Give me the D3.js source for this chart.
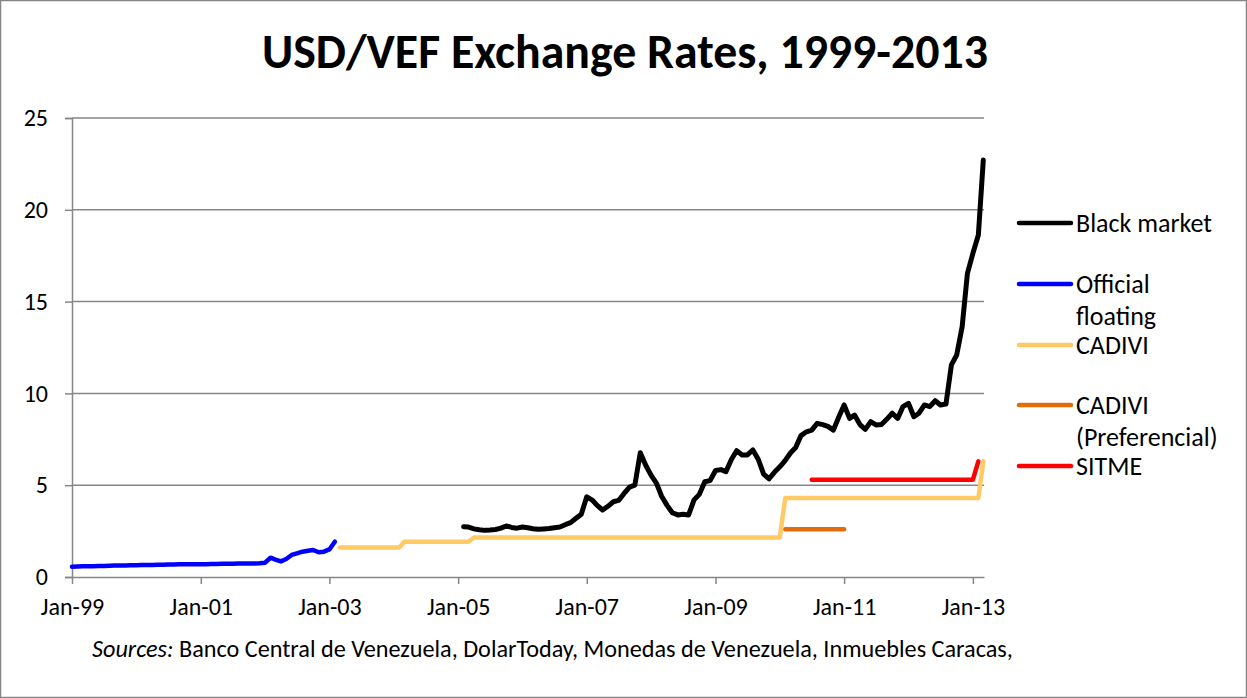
<!DOCTYPE html>
<html>
<head>
<meta charset="utf-8">
<script src="https://cdn.jsdelivr.net/npm/d3@7"></script>
<style>
  body { margin: 0; background: #fff; }
  svg text { font-family: Carlito, Calibri, Lato, sans-serif; fill: #000; }
</style>
</head>
<body>
<div id="chart"></div>
<script>
// monthly series, first value at the start month
const officialStart = '1999-01';
const officialFloating = [
  0.56, 0.57, 0.58, 0.58, 0.59, 0.60, 0.60, 0.61, 0.62, 0.62, 0.63, 0.64,
  0.64, 0.65, 0.66, 0.66, 0.67, 0.67, 0.68, 0.68, 0.69, 0.69, 0.69, 0.70,
  0.70, 0.70, 0.71, 0.71, 0.72, 0.72, 0.72, 0.73, 0.73, 0.74, 0.74, 0.75,
  0.78, 1.05, 0.95, 0.85, 0.98, 1.20, 1.29, 1.38, 1.43, 1.47, 1.35, 1.38,
  1.50, 1.92
];

const blackStart = '2005-02';
const blackMarket = [
  2.74, 2.72, 2.62, 2.57, 2.54, 2.56, 2.59, 2.66, 2.78, 2.70, 2.66,
  2.72, 2.68, 2.63, 2.60, 2.62, 2.64, 2.68, 2.72, 2.85, 2.96, 3.20, 3.42,
  4.37, 4.19, 3.90, 3.65, 3.85, 4.10, 4.17, 4.55, 4.90, 5.00, 6.77, 6.10,
  5.55, 5.10, 4.40, 3.90, 3.50, 3.38, 3.42, 3.38, 4.20, 4.50, 5.19, 5.25,
  5.80, 5.85, 5.74, 6.40, 6.88, 6.65, 6.65, 6.92, 6.40, 5.60, 5.35, 5.70,
  6.00, 6.35, 6.74, 7.05, 7.70, 7.91, 8.00, 8.37, 8.30, 8.20, 8.00, 8.70,
  9.37, 8.64, 8.82, 8.30, 8.04, 8.46, 8.28, 8.30, 8.60, 8.92, 8.64, 9.28,
  9.46, 8.73, 8.92, 9.37, 9.28, 9.60, 9.37, 9.42, 11.55, 12.09, 13.63, 16.54,
  17.63, 18.63, 22.71
];

// fixed rates: dates where the rate holds / changes
const cadiviDates = ['2003-03', '2004-02', '2004-03', '2005-03', '2005-04', '2010-01', '2010-02', '2013-02', '2013-03'];
const cadiviRates = [1.6, 1.6, 1.92, 1.92, 2.15, 2.15, 4.3, 4.3, 6.3];

const prefDates = ['2010-02', '2011-01'];
const prefRates = [2.6, 2.6];

const sitmeDates = ['2010-07', '2013-01', '2013-02'];
const sitmeRates = [5.3, 5.3, 6.3];

const yTicks = [0, 5, 10, 15, 20, 25];
const xTickMonths = ['1999-01', '2001-01', '2003-01', '2005-01', '2007-01', '2009-01', '2011-01', '2013-01'];
const xTickLabels = ['Jan-99', 'Jan-01', 'Jan-03', 'Jan-05', 'Jan-07', 'Jan-09', 'Jan-11', 'Jan-13'];

const legendNames = [['Black market'], ['Official', 'floating'], ['CADIVI'], ['CADIVI', '(Preferencial)'], ['SITME']];
const legendColors = ['#000000', '#0000ff', '#ffc966', '#e36c0a', '#ff0000'];

const parseMonth = d3.timeParse('%Y-%m');
const monthly = (start, values) => values.map((v, i) => ({ date: d3.timeMonth.offset(parseMonth(start), i), value: v }));
const paired = (dates, values) => dates.map((d, i) => ({ date: parseMonth(d), value: values[i] }));

const series = [
  { data: monthly(blackStart, blackMarket), color: legendColors[0], width: 5 },
  { data: monthly(officialStart, officialFloating), color: legendColors[1], width: 4.5 },
  { data: paired(cadiviDates, cadiviRates), color: legendColors[2], width: 4.5 },
  { data: paired(prefDates, prefRates), color: legendColors[3], width: 4.5 },
  { data: paired(sitmeDates, sitmeRates), color: legendColors[4], width: 4.5 }
];

const W = 1247, H = 698;
const plot = { left: 72, right: 984, top: 118, bottom: 577 };

const svg = d3.select('#chart').append('svg').attr('width', W).attr('height', H);

svg.append('rect').attr('x', 0.5).attr('y', 0.5).attr('width', W - 1).attr('height', H - 1)
  .attr('fill', '#fff').attr('stroke', '#868686').attr('stroke-width', 1.5);

const x = d3.scaleTime()
  .domain([new Date(1999, 0, 1), new Date(2013, 2, 5)])
  .range([plot.left, plot.right]);
const y = d3.scaleLinear().domain([0, 25]).range([plot.bottom, plot.top]);

// gridlines
svg.append('g').selectAll('line').data(yTicks.slice(1)).join('line')
  .attr('x1', plot.left).attr('x2', plot.right)
  .attr('y1', d => y(d)).attr('y2', d => y(d))
  .attr('stroke', '#868686').attr('stroke-width', 1.5);

// y axis
const yAxis = svg.append('g').attr('transform', `translate(${plot.left},0)`)
  .call(d3.axisLeft(y).tickValues(yTicks).tickSize(7).tickPadding(17));
yAxis.select('.domain').attr('stroke', '#868686').attr('stroke-width', 1.5);
yAxis.selectAll('.tick line').attr('stroke', '#868686').attr('stroke-width', 1.5);
yAxis.selectAll('.tick text').attr('font-size', 24).attr('fill', '#000');

// x axis
const xAxis = svg.append('g').attr('transform', `translate(0,${plot.bottom})`)
  .call(d3.axisBottom(x).tickValues(xTickMonths.map(parseMonth))
    .tickFormat((d, i) => xTickLabels[i]).tickSize(7).tickSizeOuter(0).tickPadding(14));
xAxis.select('.domain').attr('stroke', '#868686').attr('stroke-width', 1.5);
xAxis.selectAll('.tick line').attr('stroke', '#868686').attr('stroke-width', 1.5);
xAxis.selectAll('.tick text').attr('font-size', 24).attr('fill', '#000');
svg.selectAll('.tick text').style('font-family', 'Carlito, Calibri, Lato, sans-serif');

// lines
const line = d3.line().x(d => x(d.date)).y(d => y(d.value));
svg.append('g').selectAll('path').data(series.slice().reverse()).join('path')
  .attr('d', d => line(d.data))
  .attr('fill', 'none')
  .attr('stroke', d => d.color)
  .attr('stroke-width', d => d.width)
  .attr('stroke-linejoin', 'round')
  .attr('stroke-linecap', 'round');

// legend
const legendY = [223, 284, 345, 405, 466];
const legend = svg.append('g');
legendNames.forEach((names, i) => {
  legend.append('line')
    .attr('x1', 1019).attr('x2', 1071)
    .attr('y1', legendY[i]).attr('y2', legendY[i])
    .attr('stroke', legendColors[i]).attr('stroke-width', 4.5).attr('stroke-linecap', 'round');
  names.forEach((n, j) => {
    legend.append('text').attr('x', 1076).attr('y', legendY[i] + 9 + j * 32)
      .attr('font-size', 26).text(n);
  });
});

// title
const title = svg.append('text').attr('x', 625).attr('y', 68).attr('text-anchor', 'middle')
  .attr('font-size', 42).attr('font-weight', 700).text('USD/VEF Exchange Rates, 1999-2013');
const tl = title.node().getComputedTextLength();
title.attr('font-size', 42 * 726 / tl);

// source note
const src = svg.append('text').attr('x', 92).attr('y', 657).attr('font-size', 21);
src.append('tspan').attr('font-style', 'italic').text('Sources:');
src.append('tspan').text(' Banco Central de Venezuela, DolarToday, Monedas de Venezuela, Inmuebles Caracas,');
const sl = src.node().getComputedTextLength();
src.attr('font-size', 21 * 921 / sl);
</script>
</body>
</html>
